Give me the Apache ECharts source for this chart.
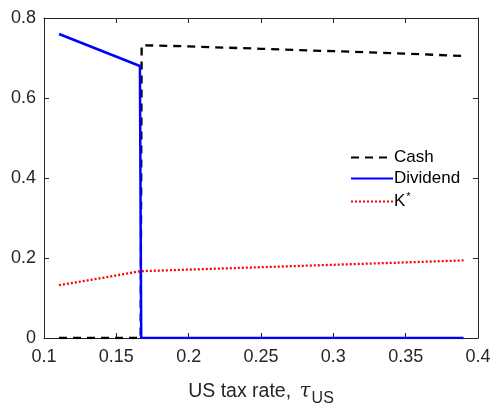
<!DOCTYPE html>
<html><head><meta charset="utf-8">
<script src="https://cdn.jsdelivr.net/npm/echarts@6/dist/echarts.min.js"></script>
<style>html,body{margin:0;padding:0;background:#fff}#c{width:493px;height:403px}</style>
</head><body><div id="c"></div>
<script>
const seriesNames = ['Cash', 'Dividend', 'K*'];
const cashX = [0.1104, 0.1668, 0.1675, 0.20, 0.25, 0.30, 0.35, 0.39];
const cashY = [0, 0, 0.732, 0.729, 0.723, 0.717, 0.711, 0.705];
const divX = [0.1104, 0.1663, 0.1672, 0.39];
const divY = [0.76, 0.68, 0, 0];
const kX = [0.1104, 0.14, 0.1665, 0.20, 0.25, 0.30, 0.35, 0.39];
const kY = [0.132, 0.150, 0.167, 0.171, 0.177, 0.183, 0.189, 0.194];
const xTicks = [0.1, 0.15, 0.2, 0.25, 0.3, 0.35, 0.4];
const yTicks = [0, 0.2, 0.4, 0.6, 0.8];

const zip = (a, b) => a.map((v, i) => [v, b[i]]);
const font = 'Liberation Sans, Arial, sans-serif';
const fmt = v => (Math.round(v * 100) / 100).toString();
const axisCommon = {
  axisLine: {show: true, onZero: false, lineStyle: {color: '#262626', width: 1}},
  axisTick: {show: true, inside: true, length: 5, lineStyle: {color: '#262626'}},
  splitLine: {show: false}
};
const chart = echarts.init(document.getElementById('c'));
chart.setOption({
  animation: false,
  backgroundColor: '#fff',
  grid: {left: 44, top: 18, right: 15, bottom: 65, outerBoundsMode: 'none', containLabel: false},
  xAxis: [
    Object.assign({type: 'value', min: xTicks[0], max: xTicks[xTicks.length-1], interval: 0.05,
      axisLabel: {color: '#262626', fontSize: 18, fontFamily: font, margin: 10, formatter: fmt},
      name: '{a|US tax rate, }{t|τ}{s|US}', nameLocation: 'middle', nameGap: 38,
      nameTextStyle: {fontFamily: font, fontSize: 19.5, color: '#262626',
        rich: {a: {fontFamily: font, fontSize: 19.5, color: '#262626'},
               t: {fontFamily: 'DejaVu Serif', fontStyle: 'italic', fontSize: 20, color: '#262626', padding: [0, 1, 0, 3]},
               s: {fontFamily: font, fontSize: 16, color: '#262626', padding: [15, 0, 0, 0]}}}
    }, axisCommon),
    Object.assign({type: 'value', position: 'top', min: xTicks[0], max: xTicks[xTicks.length-1], interval: 0.05,
      axisLabel: {show: false}}, axisCommon)
  ],
  yAxis: [
    Object.assign({type: 'value', min: 0, max: 0.8, interval: 0.2,
      axisLabel: {color: '#262626', fontSize: 18, fontFamily: font, margin: 8, formatter: fmt}}, axisCommon),
    Object.assign({type: 'value', position: 'right', min: 0, max: 0.8, interval: 0.2,
      axisLabel: {show: false}}, axisCommon)
  ],
  legend: {
    orient: 'vertical', left: 345, top: 144, itemWidth: 42, itemHeight: 10, itemGap: 4,
    data: seriesNames,
    itemStyle: {opacity: 0},
    formatter: n => n === 'K*' ? '{k|K}{sup|*}' : n,
    textStyle: {fontFamily: font, fontSize: 17, color: '#000', padding: [0, 0, 0, -4],
      rich: {k: {fontFamily: font, fontSize: 17, color: '#000'},
             sup: {fontFamily: font, fontSize: 11, color: '#000', padding: [0, 0, 10, 1]}}}
  },
  series: [
    {name: 'Cash', type: 'line', data: zip(cashX, cashY), showSymbol: false, symbol: 'none',
     lineStyle: {color: '#000', width: 2.3, type: [8, 6]}, itemStyle: {color: '#000'}, z: 3},
    {name: 'Dividend', type: 'line', data: zip(divX, divY), showSymbol: false, symbol: 'none',
     lineStyle: {color: '#0000ff', width: 2.5}, itemStyle: {color: '#0000ff'}, z: 4},
    {name: 'K*', type: 'line', data: zip(kX, kY), showSymbol: false, symbol: 'none',
     lineStyle: {color: '#ff0000', width: 2.3, type: [2, 2]}, itemStyle: {color: '#ff0000'}, z: 2}
  ]
});
</script></body></html>
